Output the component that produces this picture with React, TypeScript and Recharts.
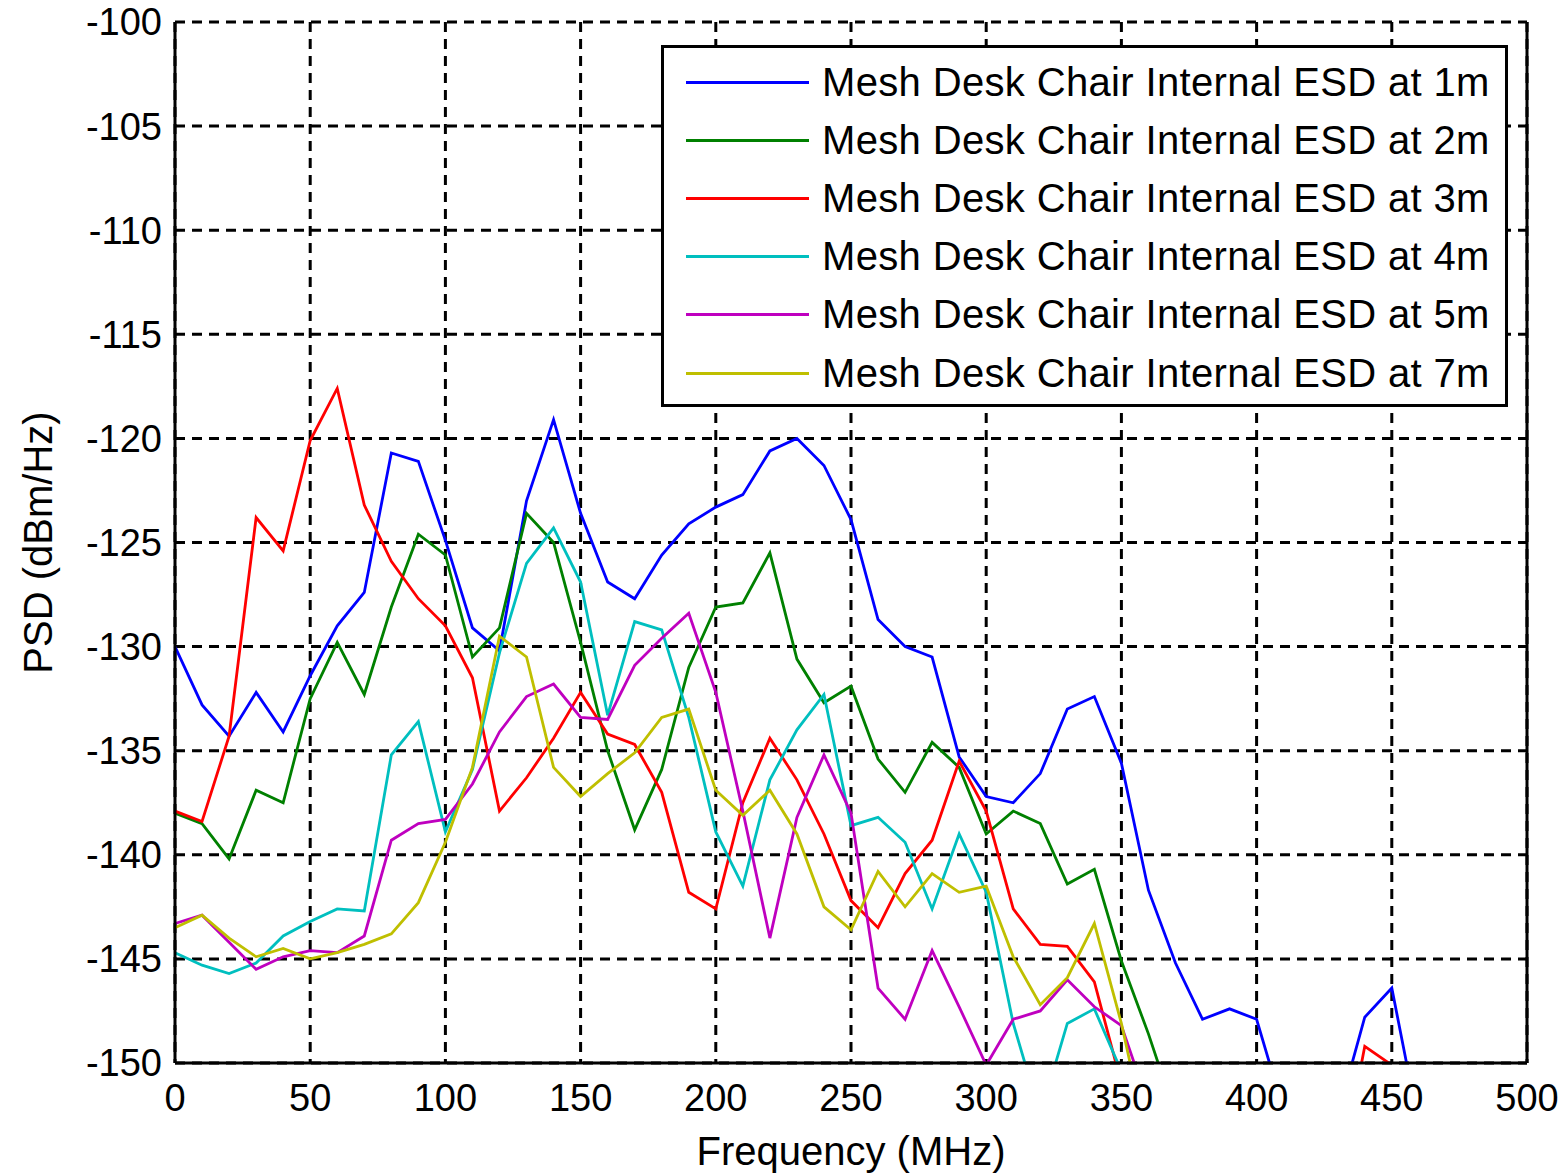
import { LineChart, Line, XAxis, YAxis, CartesianGrid, Legend, ReferenceLine } from "recharts";

// frequency points (MHz)
const freqs = [
  0, 10, 20, 30, 40, 50, 60, 70, 80, 90, 100, 110, 120, 130, 140, 150, 160, 170, 180, 190, 200,
  210, 220, 230, 240, 250, 260, 270, 280, 290, 300, 310, 320, 330, 340, 350, 360, 370, 380, 390, 400,
  410, 420, 430, 440, 450, 460, 470, 480, 490, 500,
];

// PSD (dBm/Hz) per distance; values under -150 fall below the visible window
const esd1m = [
  -130.0, -132.8, -134.3, -132.2, -134.1, -131.4, -129.0, -127.4, -120.7, -121.1, -124.9,
  -129.1, -130.2, -123.0, -119.1, -123.6, -126.9, -127.7, -125.6, -124.1, -123.3,
  -122.7, -120.6, -120.0, -121.3, -123.9, -128.7, -130.0, -130.5, -135.3, -137.2,
  -137.5, -136.1, -133.0, -132.4, -135.6, -141.7, -145.2, -147.9, -147.4, -147.9,
  -152.3, -155.0, -152.5, -147.8, -146.4, -153.0, -156.0, -156.0, -156.0, -156.0,
];
const esd2m = [
  -138.0, -138.5, -140.2, -136.9, -137.5, -132.5, -129.8, -132.3, -128.1, -124.6, -125.6,
  -130.5, -129.1, -123.6, -125.0, -129.8, -135.0, -138.8, -135.9, -131.0, -128.1,
  -127.9, -125.5, -130.6, -132.7, -131.9, -135.4, -137.0, -134.6, -135.8, -139.0,
  -137.9, -138.5, -141.4, -140.7, -145.1, -148.6, -152.5, -156.0, -156.0, -156.0,
  -156.0, -156.0, -156.0, -156.0, -156.0, -156.0, -156.0, -156.0, -156.0, -156.0,
];
const esd3m = [
  -137.9, -138.4, -134.3, -123.8, -125.4, -120.1, -117.6, -123.2, -125.9, -127.7, -129.0,
  -131.5, -137.9, -136.3, -134.4, -132.2, -134.2, -134.7, -137.0, -141.8, -142.6,
  -137.5, -134.4, -136.4, -139.0, -142.2, -143.5, -140.9, -139.3, -135.5, -137.9,
  -142.6, -144.3, -144.4, -146.1, -151.0, -156.0, -156.0, -156.0, -156.0, -156.0,
  -156.0, -156.0, -156.0, -149.2, -150.1, -153.0, -156.0, -156.0, -156.0, -156.0,
];
const esd4m = [
  -144.7, -145.3, -145.7, -145.2, -143.9, -143.2, -142.6, -142.7, -135.2, -133.6, -138.9,
  -135.9, -130.3, -126.0, -124.3, -126.9, -133.3, -128.8, -129.2, -133.4, -138.9,
  -141.5, -136.4, -134.0, -132.3, -138.6, -138.2, -139.4, -142.6, -139.0, -141.8,
  -148.1, -152.5, -148.1, -147.4, -150.4, -156.0, -156.0, -156.0, -156.0, -156.0,
  -156.0, -156.0, -156.0, -156.0, -156.0, -156.0, -156.0, -156.0, -156.0, -156.0,
];
const esd5m = [
  -143.3, -142.9, -144.2, -145.5, -144.9, -144.6, -144.7, -143.9, -139.3, -138.5, -138.3,
  -136.6, -134.1, -132.4, -131.8, -133.4, -133.5, -130.9, -129.6, -128.4, -132.2,
  -137.9, -144.0, -138.2, -135.2, -138.0, -146.4, -147.9, -144.6, -147.3, -150.1,
  -147.9, -147.5, -146.0, -147.3, -148.2, -152.0, -156.0, -156.0, -156.0, -156.0,
  -156.0, -156.0, -156.0, -156.0, -156.0, -156.0, -156.0, -156.0, -156.0, -156.0,
];
const esd7m = [
  -143.5, -142.9, -144.0, -144.9, -144.5, -145.0, -144.7, -144.3, -143.8, -142.3, -139.4,
  -135.8, -129.5, -130.5, -135.8, -137.2, -136.1, -135.1, -133.4, -133.0, -136.9,
  -138.1, -136.9, -139.0, -142.5, -143.6, -140.8, -142.5, -140.9, -141.8, -141.5,
  -144.9, -147.2, -145.9, -143.3, -148.1, -154.0, -156.0, -156.0, -156.0, -156.0,
  -156.0, -156.0, -156.0, -156.0, -156.0, -156.0, -156.0, -156.0, -156.0, -156.0,
];

const xTicks = [0, 50, 100, 150, 200, 250, 300, 350, 400, 450, 500];
const yTicks = [-150, -145, -140, -135, -130, -125, -120, -115, -110, -105, -100];

const series = [
  { key: "m1", name: "Mesh Desk Chair Internal ESD at 1m", color: "#0000ff", values: esd1m },
  { key: "m2", name: "Mesh Desk Chair Internal ESD at 2m", color: "#008000", values: esd2m },
  { key: "m3", name: "Mesh Desk Chair Internal ESD at 3m", color: "#ff0000", values: esd3m },
  { key: "m4", name: "Mesh Desk Chair Internal ESD at 4m", color: "#00bfbf", values: esd4m },
  { key: "m5", name: "Mesh Desk Chair Internal ESD at 5m", color: "#bf00bf", values: esd5m },
  { key: "m7", name: "Mesh Desk Chair Internal ESD at 7m", color: "#bfbf00", values: esd7m },
];

const data = freqs.map((f, i) => {
  const row: Record<string, number> = { f };
  series.forEach((s) => (row[s.key] = s.values[i]));
  return row;
});

const FONT = "'Liberation Sans', Arial, Helvetica, sans-serif";
const tickStyle = { fontSize: 38, fill: "#000", fontFamily: FONT };

function LegendBox() {
  return (
    <div
      style={{
        boxSizing: "border-box",
        width: 847,
        height: 362,
        border: "3px solid #000",
        background: "#fff",
        paddingTop: 5,
        fontFamily: FONT,
      }}
    >
      {series.map((s) => (
        <div key={s.key} style={{ display: "flex", alignItems: "center", height: 58.2 }}>
          <div style={{ marginLeft: 22, width: 123, height: 3, background: s.color }} />
          <span style={{ marginLeft: 13, fontSize: 40, letterSpacing: 0.35, color: "#000", whiteSpace: "nowrap" }}>
            {s.name}
          </span>
        </div>
      ))}
    </div>
  );
}

function YLabel({ viewBox }: any) {
  const cx = viewBox.x + 38;
  const cy = viewBox.y + viewBox.height / 2;
  return (
    <text
      x={cx}
      y={cy}
      transform={`rotate(-90 ${cx} ${cy})`}
      textAnchor="middle"
      dominantBaseline="central"
      fontSize={40}
      fontFamily={FONT}
      fill="#000"
    >
      PSD (dBm/Hz)
    </text>
  );
}

export default function App() {
  return (
    <div style={{ position: "absolute", left: 0, top: 0, width: 1567, height: 1175, background: "#fff" }}>
      <LineChart width={1567} height={1175} data={data} margin={{ top: 22, right: 40, left: 0, bottom: 0 }}>
        <CartesianGrid stroke="#000" strokeWidth={3} strokeDasharray="10 7" horizontalValues={yTicks} verticalValues={xTicks} />
        <XAxis
          dataKey="f"
          type="number"
          domain={[0, 500]}
          ticks={xTicks}
          height={112}
          tick={tickStyle}
          tickSize={0}
          tickMargin={21}
          tickLine={false}
          axisLine={{ stroke: "#000", strokeWidth: 3 }}
          label={{ value: "Frequency (MHz)", position: "insideBottom", offset: 10, fontSize: 40, fill: "#000", fontFamily: FONT }}
        />
        <XAxis
          xAxisId="top"
          orientation="top"
          dataKey="f"
          type="number"
          domain={[0, 500]}
          ticks={xTicks}
          height={0}
          tick={false}
          tickLine={false}
          axisLine={{ stroke: "#000", strokeWidth: 3 }}
        />
        <YAxis
          type="number"
          domain={[-150, -100]}
          ticks={yTicks}
          allowDataOverflow
          width={175}
          tick={tickStyle}
          tickSize={0}
          tickMargin={13}
          tickLine={false}
          axisLine={{ stroke: "#000", strokeWidth: 3 }}
          label={{ content: YLabel }}
        />
        <ReferenceLine x={500} stroke="#000" strokeWidth={3} />
        <Legend
          layout="vertical"
          verticalAlign="middle"
          align="center"
          content={<LegendBox />}
          wrapperStyle={{ top: 45, left: 661, width: 847, height: 362 }}
        />
        {series.map((s) => (
          <Line
            key={s.key}
            type="linear"
            dataKey={s.key}
            name={s.name}
            stroke={s.color}
            strokeWidth={2.8}
            dot={false}
            activeDot={false}
            isAnimationActive={false}
          />
        ))}
      </LineChart>
    </div>
  );
}
